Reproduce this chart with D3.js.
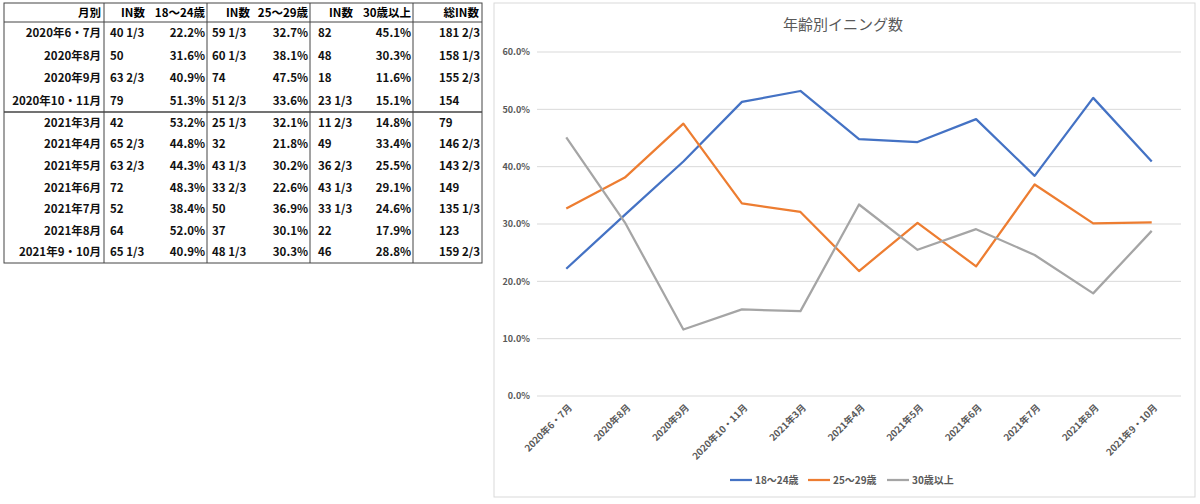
<!DOCTYPE html>
<html>
<head>
<meta charset="utf-8">
<script src="https://cdn.jsdelivr.net/npm/d3@7"></script>
<style>
  body { margin: 0; background: #fff; }
  svg { display: block; font-family: "Noto Sans CJK JP", "Noto Sans", sans-serif; }
</style>
</head>
<body>
<div id="container"></div>
<script>
// データ
const months = ["2020年6・7月", "2020年8月", "2020年9月", "2020年10・11月", "2021年3月", "2021年4月",
    "2021年5月", "2021年6月", "2021年7月", "2021年8月", "2021年9・10月"];
const in1824 = ["40 1/3", "50", "63 2/3", "79", "42", "65 2/3", "63 2/3", "72", "52", "64", "65 1/3"];
const in2529 = ["59 1/3", "60 1/3", "74", "51 2/3", "25 1/3", "32", "43 1/3", "33 2/3", "50", "37", "48 1/3"];
const in30 = ["82", "48", "18", "23 1/3", "11 2/3", "49", "36 2/3", "43 1/3", "33 1/3", "22", "46"];
const totalIn = ["181 2/3", "158 1/3", "155 2/3", "154", "79", "146 2/3", "143 2/3", "149", "135 1/3", "123", "159 2/3"];
const pct1824 = [22.2, 31.6, 40.9, 51.3, 53.2, 44.8, 44.3, 48.3, 38.4, 52.0, 40.9];
const pct2529 = [32.7, 38.1, 47.5, 33.6, 32.1, 21.8, 30.2, 22.6, 36.9, 30.1, 30.3];
const pct30 = [45.1, 30.3, 11.6, 15.1, 14.8, 33.4, 25.5, 29.1, 24.6, 17.9, 28.8];
const seriesNames = ["18〜24歳", "25〜29歳", "30歳以上"];
const yTicks = [0, 10, 20, 30, 40, 50, 60];

const width = 1200;
const height = 504;

const svg = d3.select("#container").append("svg")
    .attr("width", width)
    .attr("height", height)
    .attr("viewBox", [0, 0, width, height]);

// ---- 表 ----
const tbl = svg.append("g");
const tLeft = 4, tRight = 482, tTop = 3, headBottom = 22, splitY = 112, tBottom = 263;
const colLines = [104, 207, 310, 413];
const borderColor = "#444";
const tblFont = 11.5;

// 行の位置 (2020年 / 2021年で区切る)
const rowY = d3.scaleBand().domain(d3.range(4)).range([headBottom, splitY]);
const rowY2 = d3.scaleBand().domain(d3.range(4, 11)).range([splitY, tBottom]);
const rowCenter = i => (i < 4 ? rowY(i) + rowY.bandwidth() / 2 : rowY2(i) + rowY2.bandwidth() / 2);

tbl.append("rect")
    .attr("x", tLeft).attr("y", tTop)
    .attr("width", tRight - tLeft).attr("height", tBottom - tTop)
    .attr("fill", "none").attr("stroke", borderColor).attr("stroke-width", 1);
tbl.append("line").attr("x1", tLeft).attr("x2", tRight).attr("y1", headBottom).attr("y2", headBottom)
    .attr("stroke", borderColor);
tbl.append("line").attr("x1", tLeft).attr("x2", tRight).attr("y1", splitY).attr("y2", splitY)
    .attr("stroke", borderColor).attr("stroke-width", 1.5);
tbl.selectAll(".vline").data(colLines).join("line")
    .attr("x1", d => d).attr("x2", d => d).attr("y1", tTop).attr("y2", tBottom)
    .attr("stroke", borderColor);

const headers = [
    { text: "月別", x: 101, anchor: "end" },
    { text: "IN数", x: 145, anchor: "end" },
    { text: "18〜24歳", x: 205, anchor: "end" },
    { text: "IN数", x: 250, anchor: "end" },
    { text: "25〜29歳", x: 308, anchor: "end" },
    { text: "IN数", x: 353, anchor: "end" },
    { text: "30歳以上", x: 411, anchor: "end" },
    { text: "総IN数", x: 479, anchor: "end" }
];
tbl.selectAll(".head").data(headers).join("text")
    .attr("x", d => d.x).attr("y", 13)
    .attr("dy", "0.35em")
    .attr("text-anchor", d => d.anchor)
    .attr("font-size", tblFont).attr("font-weight", "bold")
    .text(d => d.text);

const cols = [
    { values: months, x: 101, anchor: "end" },
    { values: in1824, x: 110, anchor: "start" },
    { values: pct1824.map(v => v.toFixed(1) + "%"), x: 205, anchor: "end" },
    { values: in2529, x: 212, anchor: "start" },
    { values: pct2529.map(v => v.toFixed(1) + "%"), x: 308, anchor: "end" },
    { values: in30, x: 318, anchor: "start" },
    { values: pct30.map(v => v.toFixed(1) + "%"), x: 411, anchor: "end" },
    { values: totalIn, x: 439, anchor: "start" }
];
cols.forEach(c => {
    tbl.append("g").selectAll("text").data(c.values).join("text")
        .attr("x", c.x)
        .attr("y", (d, i) => rowCenter(i))
        .attr("dy", "0.35em")
        .attr("text-anchor", c.anchor)
        .attr("font-size", tblFont).attr("font-weight", "bold")
        .attr("fill", "#111")
        .text(d => d);
});

// ---- グラフ ----
const panel = { x: 494, y: 3, w: 701, h: 494 };
svg.append("rect")
    .attr("x", panel.x).attr("y", panel.y)
    .attr("width", panel.w).attr("height", panel.h)
    .attr("fill", "#fff").attr("stroke", "#d9d9d9");

svg.append("text")
    .attr("x", 843).attr("y", 25)
    .attr("dy", "0.35em")
    .attr("text-anchor", "middle")
    .attr("font-size", 15)
    .attr("fill", "#595959")
    .text("年齢別イニング数");

const x = d3.scaleBand().domain(months).range([537, 1181]);
const y = d3.scaleLinear().domain([0, 60]).range([396, 52]);

const g = svg.append("g");

// グリッド線
g.append("g")
    .selectAll("line").data(yTicks).join("line")
    .attr("x1", 537).attr("x2", 1181)
    .attr("y1", d => y(d)).attr("y2", d => y(d))
    .attr("stroke", "#d9d9d9").attr("stroke-width", 1);

// Y軸
g.append("g")
    .attr("transform", "translate(530,0)")
    .call(d3.axisLeft(y).tickValues(yTicks).tickSize(0).tickFormat(d => d.toFixed(1) + "%"))
    .call(a => a.select(".domain").remove())
    .selectAll("text")
    .attr("font-family", "\"Noto Sans CJK JP\", sans-serif")
    .attr("font-size", 9)
    .attr("font-weight", "bold")
    .attr("fill", "#595959")
    .attr("x", 0);

// X軸ラベル (45度回転)
g.append("g")
    .selectAll("text").data(months).join("text")
    .attr("transform", d => `translate(${x(d) + x.bandwidth() / 2 + 4},406) rotate(-45)`)
    .attr("text-anchor", "end")
    .attr("dy", "0.35em")
    .attr("font-size", 9.5)
    .attr("font-weight", "bold")
    .attr("fill", "#595959")
    .text(d => d);

const colors = ["#4472C4", "#ED7D31", "#A5A5A5"];
const seriesValues = [pct1824, pct2529, pct30];

const line = d3.line()
    .x((d, i) => x(months[i]) + x.bandwidth() / 2)
    .y(d => y(d));

seriesValues.forEach((vals, k) => {
    g.append("path")
        .datum(vals)
        .attr("fill", "none")
        .attr("stroke", colors[k])
        .attr("stroke-width", 2.25)
        .attr("stroke-linejoin", "round")
        .attr("d", line);
});

// 凡例
const legendX = [730, 808, 887];
const legend = svg.append("g");
seriesNames.forEach((name, k) => {
    const lg = legend.append("g").attr("transform", `translate(${legendX[k]},480)`);
    lg.append("line").attr("x1", 0).attr("x2", 22).attr("y1", 0).attr("y2", 0)
        .attr("stroke", colors[k]).attr("stroke-width", 2.25);
    lg.append("text").attr("x", 25).attr("dy", "0.35em")
        .attr("font-size", 10).attr("font-weight", "bold").attr("fill", "#595959")
        .text(name);
});
</script>
</body>
</html>
